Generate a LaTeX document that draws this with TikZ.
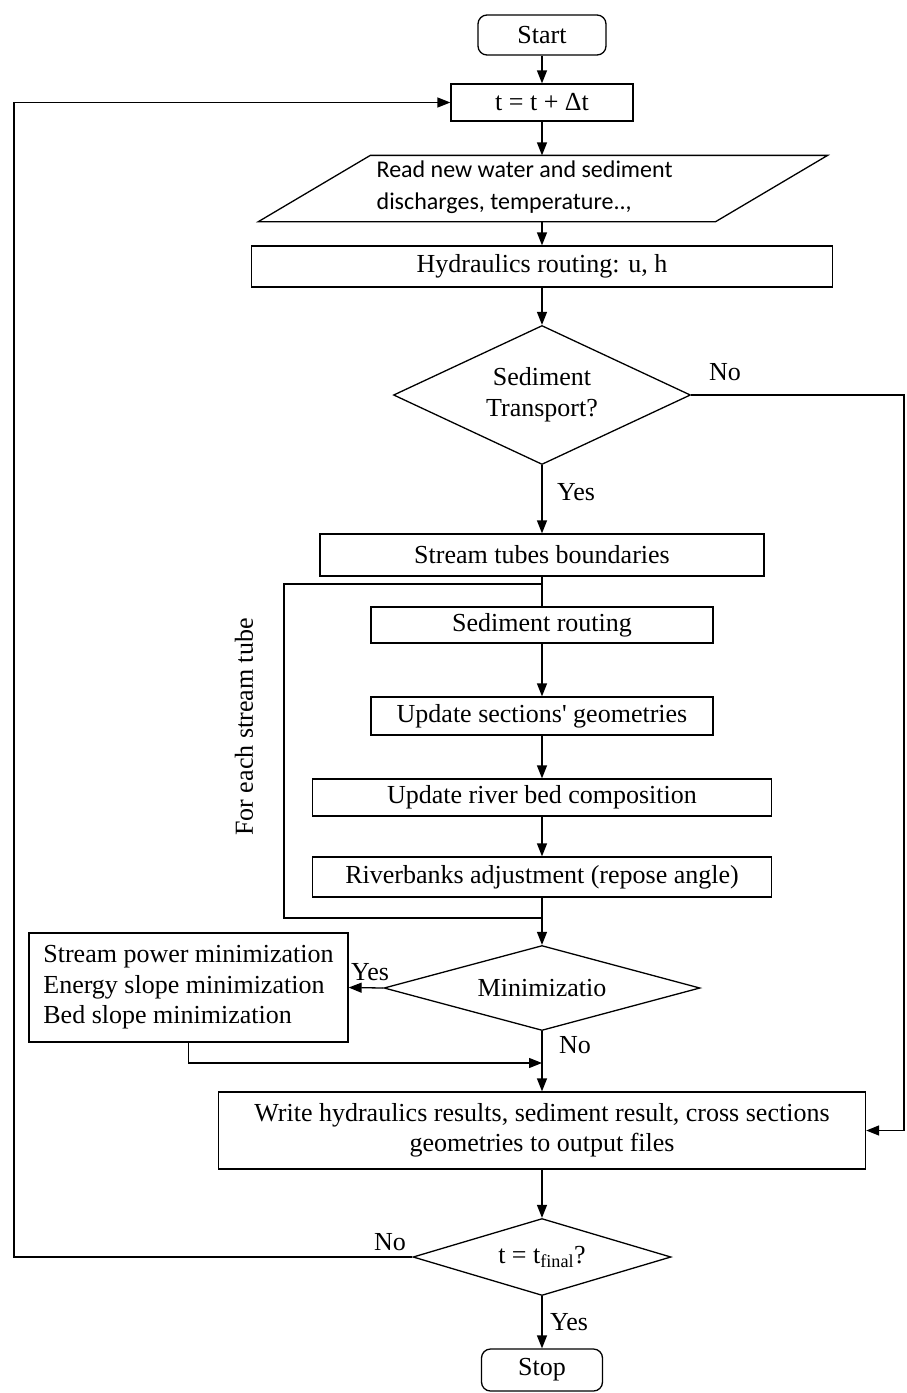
\documentclass[tikz,border=0pt]{standalone}
\usepackage{fontspec}
\setmainfont{Liberation Serif}
\newfontfamily\calibrifont{Carlito}
\usetikzlibrary{shapes.geometric,arrows.meta,calc}
\begin{document}
\begin{tikzpicture}[x=1pt,y=-1pt,
  font=\fontsize{26}{31}\selectfont,
  line width=1.3pt,
  box/.style={draw, rectangle, inner sep=0pt, align=center},
  term/.style={draw, rectangle, rounded corners=9pt, inner sep=0pt},
  dec/.style={draw, diamond, inner sep=0pt, align=center},
  arr/.style={-{Triangle[length=13pt,width=10pt]}},
  lbl/.style={inner sep=0pt}]
\fill[white] (0,0) rectangle (906,1393);
\useasboundingbox (0,0) rectangle (906,1393);

\node[term, minimum width=128pt, minimum height=40pt] (start) at (542,35) {Start};
\node[box, minimum width=182pt, minimum height=37pt] (tdt) at (542,102.5) {t = t + Δt};
\node[minimum width=456pt, minimum height=65pt, inner sep=0pt] (read) at (542,188.5) {};
\draw ($(read.north west)+(57,0)$) -- ($(read.north east)+(57,0)$) -- ($(read.south east)+(-55,0)$) -- ($(read.south west)+(-55,0)$) -- cycle;
\node[anchor=west, align=left, font=\calibrifont\fontsize{24}{32}\selectfont, inner sep=0pt] (readtxt) at (376,187) {Read new water and sediment\\discharges, temperature..,};
\node[box, minimum width=581pt, minimum height=41pt] (hyd) at (542,266.5) {Hydraulics routing: u, h};
\node[dec, minimum width=297pt, minimum height=139pt, aspect=2.14] (sed) at (542,395) {Sediment\\Transport?};
\node[box, minimum width=444pt, minimum height=42pt] (stb) at (542,555) {Stream tubes boundaries};
\node[box, minimum width=342pt, minimum height=36pt] (sr) at (542,625) {Sediment routing};
\node[box, minimum width=342pt, minimum height=38pt] (usg) at (542,716) {Update sections\textquotesingle{} geometries};
\node[box, minimum width=459pt, minimum height=37pt] (urb) at (542,797.5) {Update river bed composition};
\node[box, minimum width=459pt, minimum height=40pt] (ra) at (542,877) {Riverbanks adjustment (repose angle)};
\node[dec, minimum width=316pt, minimum height=85pt, aspect=3.7] (mind) at (542,988) {Minimizatio};
\node[box, minimum width=319pt, minimum height=109pt, align=left, font=\fontsize{26}{30.5}\selectfont] (mbox) at (188.5,987.5) {Stream power minimization\\Energy slope minimization\\Bed slope minimization};
\node[box, minimum width=647pt, minimum height=77pt, font=\fontsize{26}{30}\selectfont] (write) at (542,1130.5) {Write hydraulics results, sediment result, cross sections\\geometries to output files};
\node[dec, minimum width=258pt, minimum height=77pt, aspect=3.35] (tf) at (542,1257) {t = t\textsubscript{final}?};
\node[term, minimum width=121pt, minimum height=42pt] (stop) at (542,1370) {Stop};

\node[lbl, rotate=90] (each) at (244,727) {For each stream tube};
\node[lbl] (noA) at (725,372) {No};
\node[lbl] (yesA) at (576,492) {Yes};
\node[lbl] (yesB) at (370,972) {Yes};
\node[lbl] (noB) at (575,1045) {No};
\node[lbl] (noC) at (390,1242) {No};
\node[lbl] (yesC) at (569,1322) {Yes};

\coordinate (lr) at (542,584);
\coordinate (lt) at (284,584);
\coordinate (lb) at (284,918);
\coordinate (lbr) at (542,918);
\coordinate (mj) at (542,1063);
\coordinate (rc) at (904,395);
\coordinate (rc2) at (904,1130.5);
\coordinate (lc) at (14,1257);
\coordinate (lc2) at (14,102.5);

\draw[arr] (start) -- (tdt);
\draw[arr] (tdt.south) -- (read.north);
\draw[arr] (read.south) -- (hyd.north);
\draw[arr] (hyd.south) -- (sed.north);
\draw[arr] (sed.south) -- (stb.north);
\draw (stb.south) -- (sr.north);
\draw (lr) -- (lt) -- (lb) -- (lbr);
\draw[arr] (sr) -- (usg);
\draw[arr] (usg) -- (urb);
\draw[arr] (urb) -- (ra);
\draw[arr] (ra) -- (mind);
\draw[arr] (mind.west) -- (mbox.east);
\draw[arr] (mbox.south) -- (mbox.south |- mj) -- (mj);
\draw[arr] (mind.south) -- (write.north);
\draw[arr] (sed.east) -- (rc) -- (rc2) -- (write.east);
\draw[arr] (write) -- (tf);
\draw[arr] (tf) -- (stop);
\draw[arr] (tf.west) -- (lc) -- (lc2) -- (tdt.west);
\end{tikzpicture}
\end{document}
